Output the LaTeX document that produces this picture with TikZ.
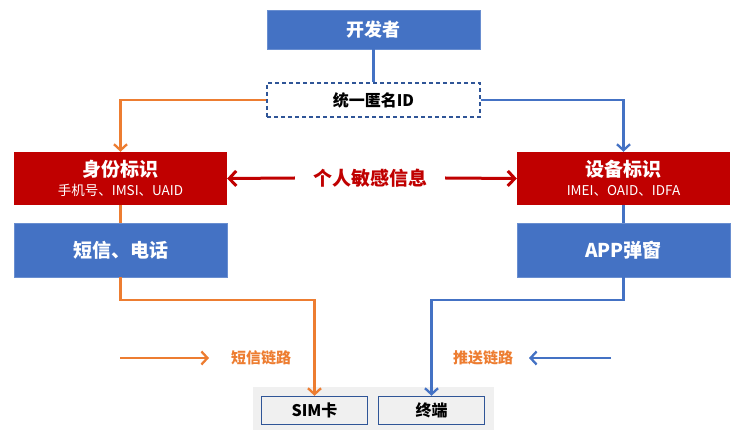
\documentclass[tikz,border=0pt]{standalone}
\usepackage{fontspec}
\setmainfont{Noto Sans CJK SC}
\usetikzlibrary{arrows.meta}
\definecolor{boxblue}{HTML}{4472C4}
\definecolor{darkblue}{HTML}{2F5597}
\definecolor{idred}{HTML}{C00000}
\definecolor{linkorange}{HTML}{ED7D31}
\definecolor{lightgray}{HTML}{F0F0F0}
\begin{document}
\begin{tikzpicture}[x=1pt,y=-1pt,
	bluebox/.style={fill=boxblue, draw=boxblue!80!white, text=white, font=\fontsize{19}{22}\selectfont\bfseries, minimum width=213pt, inner sep=0pt},
	redbox/.style={fill=idred, text=white, minimum width=213pt, minimum height=53pt, inner sep=0pt, align=center, font=\fontsize{13.5}{19}\selectfont},
	endbox/.style={fill=lightgray, draw=darkblue, line width=1.4pt, minimum width=106pt, minimum height=28pt, inner sep=0pt, font=\fontsize{16}{19}\selectfont\bfseries},
	orangeline/.style={linkorange, line width=2.3pt},
	blueline/.style={boxblue, line width=2.3pt},
	tip/.style={-{Straight Barb[length=6pt,width=13pt,line width=2.3pt]}}]
	\useasboundingbox (0,0) rectangle (750,430);
	\fill[lightgray] (253,387) rectangle (494,430);
	\node[bluebox, minimum height=39pt, font=\fontsize{18}{21}\selectfont\bfseries] (dev) at (373.5,29.5) {开发者};
	\node[draw=darkblue, dash pattern=on 4pt off 3pt, line width=1.4pt, fill=white, minimum width=213pt, minimum height=34pt, inner sep=0pt, font=\fontsize{16}{19}\selectfont\bfseries] (anon) at (373.5,100) {统一匿名ID};
	\node[redbox] (idL) at (120.5,178.5) {{\fontsize{19}{22}\selectfont\bfseries 身份标识}\\手机号、IMSI、UAID};
	\node[redbox] (idR) at (623.5,178.5) {{\fontsize{19}{22}\selectfont\bfseries 设备标识}\\IMEI、OAID、IDFA};
	\node[bluebox, minimum height=54pt] (smsL) at (120.5,250) {短信、电话};
	\node[bluebox, minimum height=54pt] (appR) at (623.5,250) {APP弹窗};
	\node[text=idred, inner xsep=18pt, font=\fontsize{19}{22}\selectfont\bfseries] (sens) at (370,178) {个人敏感信息};
	\node[endbox] (sim) at (314.5,410.5) {SIM卡};
	\node[endbox] (term) at (431.5,410.5) {终端};
	\node[text=linkorange, font=\fontsize{15}{17}\selectfont\bfseries] (smslink) at (261,358) {短信链路};
	\node[text=linkorange, font=\fontsize{15}{17}\selectfont\bfseries] (pushlink) at (483,358) {推送链路};
	\coordinate (oStart) at (120,358);
	\coordinate (oEnd) at (209,358);
	\coordinate (bStart) at (611,358);
	\coordinate (bEnd) at (529,358);
	% connectors
	\draw[blueline] (dev.south) -- (anon.north);
	\draw[orangeline, tip] (anon.west) -| (idL.north);
	\draw[blueline, tip] (anon.east) -| (idR.north);
	\draw[orangeline] (idL.south) -- (smsL.north);
	\draw[blueline] (idR.south) -- (appR.north);
	\draw[orangeline, tip] (smsL.south) -- ++(0,23) -| (sim.north);
	\draw[blueline, tip] (appR.south) -- ++(0,23) -| (term.north);
	\draw[idred, line width=3pt, -{Straight Barb[length=7pt,width=15pt,line width=3pt]}] (sens.west) -- (idL.east);
	\draw[idred, line width=3pt, -{Straight Barb[length=7pt,width=15pt,line width=3pt]}] (sens.east) -- (idR.west);
	\draw[orangeline, tip] (oStart) -- (oEnd);
	\draw[blueline, tip] (bStart) -- (bEnd);
\end{tikzpicture}
\end{document}
